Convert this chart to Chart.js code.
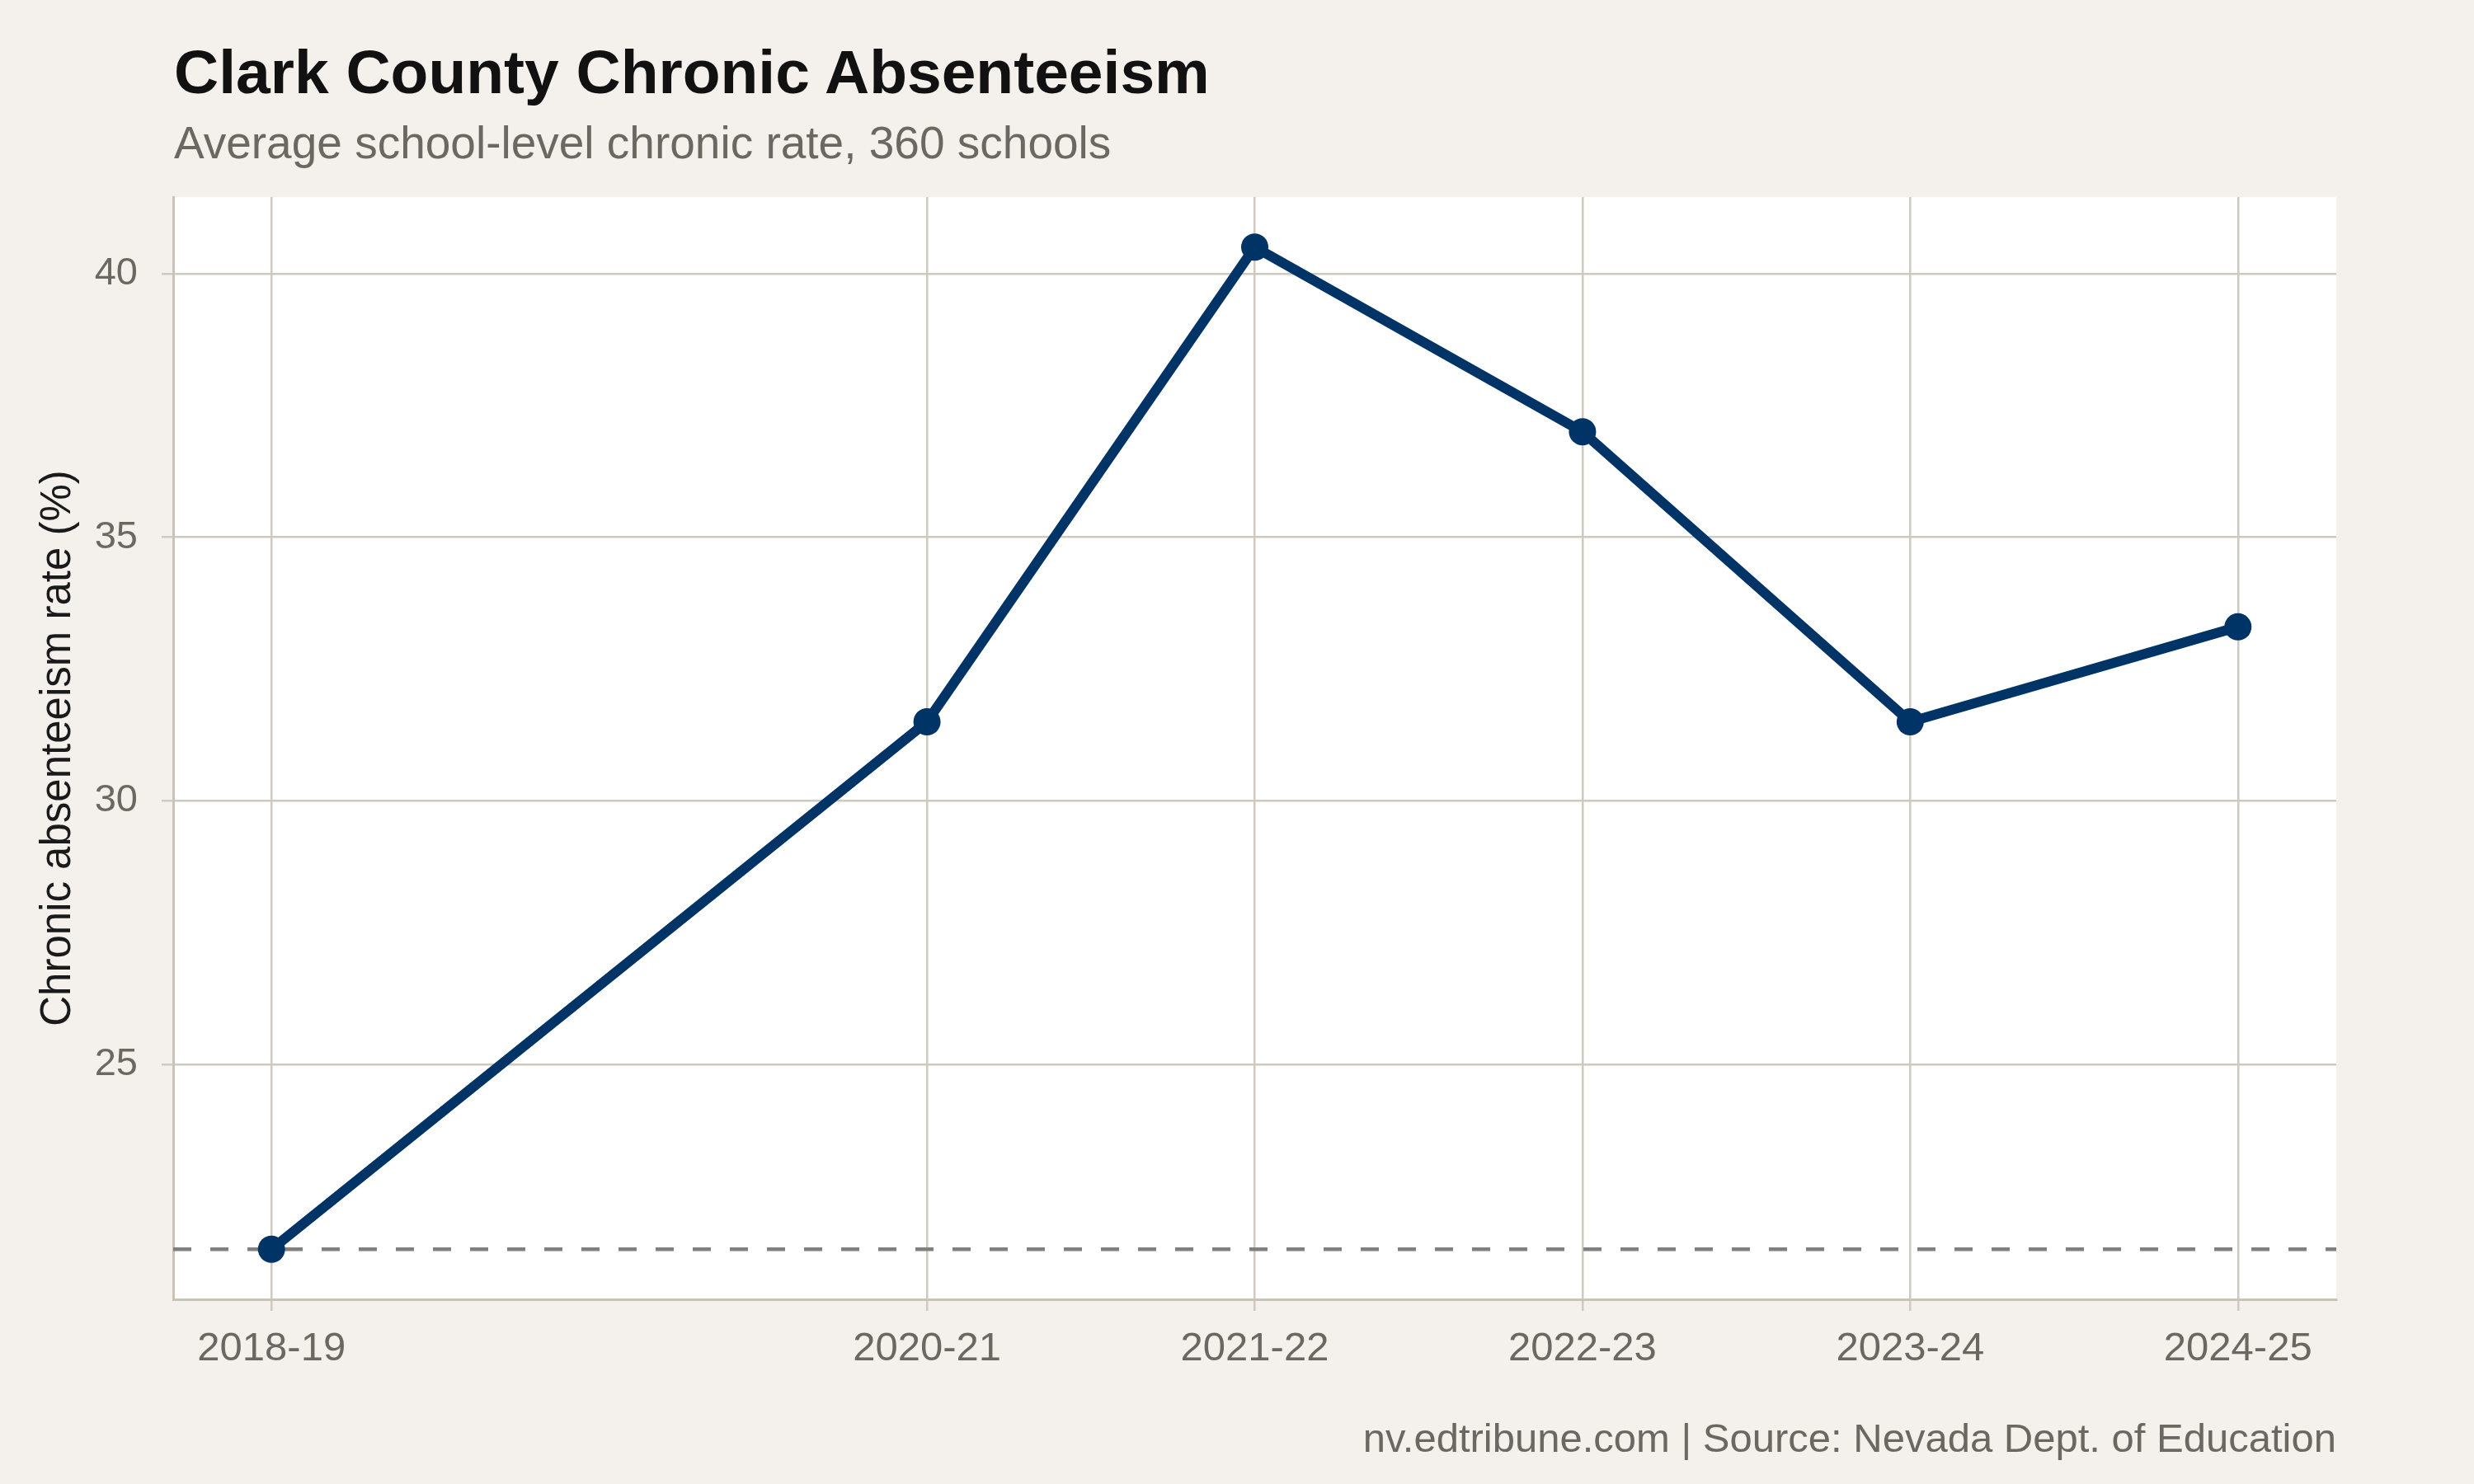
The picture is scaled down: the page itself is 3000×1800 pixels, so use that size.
<!DOCTYPE html>
<html>
<head>
<meta charset="utf-8">
<title>Clark County Chronic Absenteeism</title>
<script src="https://cdn.jsdelivr.net/npm/chart.js@4.4.1/dist/chart.umd.min.js"></script>
<style>
  html, body { margin: 0; padding: 0; background: #f4f1ec; }
  #wrap { position: relative; width: 3000px; height: 1800px; font-family: 'Liberation Sans', Arial, sans-serif; }
  #chart { position: absolute; left: 0; top: 0; }
  .txt { position: absolute; line-height: 1; white-space: nowrap; }
  #title { left: 211px; top: 50px; font-size: 75px; font-weight: bold; color: #111; }
  #subtitle { left: 211px; top: 146px; font-size: 55px; color: #6b6862; }
  #caption { right: 167px; top: 1720px; font-size: 49px; color: #6b6862; }
</style>
</head>
<body>
<div id="wrap">
  <canvas id="chart" width="3000" height="1800"></canvas>
  <div class="txt" id="title">Clark County Chronic Absenteeism</div>
  <div class="txt" id="subtitle">Average school-level chronic rate, 360 schools</div>
  <div class="txt" id="caption">nv.edtribune.com | Source: Nevada Dept. of Education</div>
</div>
<script>
// datos
const seasons = ['2018-19', '2020-21', '2021-22', '2022-23', '2023-24', '2024-25'];
const chronicRate = [21.5, 31.5, 40.5, 37.0, 31.5, 33.3];
const baselineRate = 21.5;
const yTicks = [25, 30, 35, 40];

const startYears = seasons.map(s => parseInt(s, 10));

// margen tipo ggplot (5% del rango)
const xPad = (Math.max(...startYears) - Math.min(...startYears)) * 0.05;
const yPad = (Math.max(...chronicRate) - Math.min(...chronicRate)) * 0.05;

const gridColor = '#cfc9bf';
const axisColor = '#c9c3b8';
const tickText = '#6b6862';

Chart.defaults.font.family = "'Liberation Sans', Arial, sans-serif";

const plotBackground = {
    id: 'plotBackground',
    beforeDraw(chart) {
        const { ctx, chartArea } = chart;
        ctx.save();
        ctx.fillStyle = '#ffffff';
        ctx.fillRect(chartArea.left, chartArea.top, chartArea.right - chartArea.left, chartArea.bottom - chartArea.top);
        ctx.restore();
    }
};

const baselineLine = {
    id: 'baselineLine',
    beforeDatasetsDraw(chart) {
        const { ctx, chartArea, scales } = chart;
        const y = scales.y.getPixelForValue(baselineRate);
        ctx.save();
        ctx.strokeStyle = '#808080';
        ctx.lineWidth = 4.5;
        ctx.setLineDash([22, 23]);
        ctx.beginPath();
        ctx.moveTo(chartArea.left, y);
        ctx.lineTo(chartArea.right, y);
        ctx.stroke();
        ctx.restore();
    }
};

const ctx = document.getElementById('chart').getContext('2d');

new Chart(ctx, {
    type: 'line',
    data: {
        datasets: [{
            data: startYears.map((x, i) => ({ x: x, y: chronicRate[i] })),
            borderColor: '#003366',
            backgroundColor: '#003366',
            pointBackgroundColor: '#003366',
            borderWidth: 12,
            pointRadius: 16.5,
            pointBorderWidth: 0,
            tension: 0
        }]
    },
    options: {
        responsive: false,
        animation: false,
        events: [],
        layout: { padding: { top: 239, right: 167, left: 0, bottom: 0 } },
        plugins: {
            legend: { display: false },
            tooltip: { enabled: false }
        },
        scales: {
            x: {
                type: 'linear',
                min: Math.min(...startYears) - xPad,
                max: Math.max(...startYears) + xPad,
                afterBuildTicks: scale => { scale.ticks = startYears.map(v => ({ value: v })); },
                afterFit: scale => { scale.height = 224; },
                ticks: {
                    callback: (value, index) => seasons[index],
                    autoSkip: false,
                    maxRotation: 0,
                    font: { size: 49 },
                    color: tickText,
                    padding: 17
                },
                grid: { color: gridColor, lineWidth: 2.5, tickLength: 14 },
                border: { color: axisColor, width: 3 }
            },
            y: {
                min: Math.min(...chronicRate) - yPad,
                max: Math.max(...chronicRate) + yPad,
                afterBuildTicks: scale => { scale.ticks = yTicks.map(v => ({ value: v })); },
                afterFit: scale => { scale.width = 210; },
                ticks: {
                    font: { size: 47 },
                    color: tickText,
                    padding: 29
                },
                title: {
                    display: true,
                    text: 'Chronic absenteeism rate (%)',
                    font: { size: 51 },
                    color: '#1a1a1a',
                    padding: { top: 40, bottom: 0 }
                },
                grid: { color: gridColor, lineWidth: 2.5, tickLength: 14 },
                border: { color: axisColor, width: 3 }
            }
        }
    },
    plugins: [plotBackground, baselineLine]
});
</script>
</body>
</html>
